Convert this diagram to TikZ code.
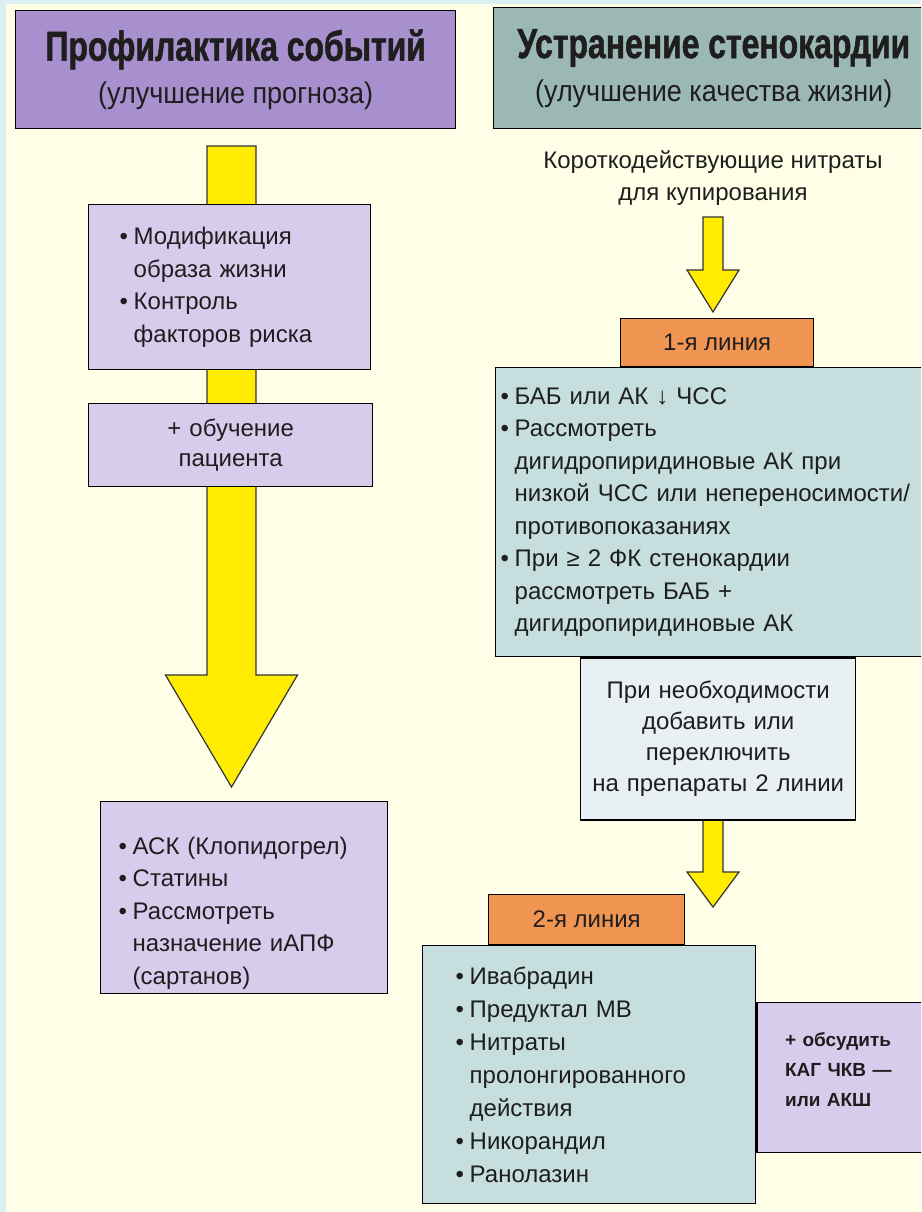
\documentclass[tikz,border=0pt]{standalone}
\usepackage{fontspec}
\setmainfont{Liberation Sans}
\newfontfamily\headfont[FakeStretch=0.76,FakeBold=1.2]{Liberation Sans}
\newfontfamily\subheadfont[FakeStretch=0.9]{Liberation Sans}
\usetikzlibrary{positioning,calc}
\definecolor{cream}{RGB}{255,255,232}
\definecolor{frameblue}{RGB}{220,240,242}
\definecolor{violet}{RGB}{168,144,206}
\definecolor{lavender}{RGB}{216,204,236}
\definecolor{sage}{RGB}{156,184,180}
\definecolor{mint}{RGB}{198,222,222}
\definecolor{mist}{RGB}{232,240,244}
\definecolor{tangerine}{RGB}{240,150,82}
\definecolor{lemon}{RGB}{255,236,0}
\definecolor{ink}{RGB}{30,30,30}

\newcommand{\bul}{\makebox[14pt][l]{\textbullet}}
\newcommand{\ind}{\hspace*{14pt}}
\newcommand{\bodysize}{\fontsize{24}{32.5}\selectfont}
% block arrow: from, to, half shaft, half head, head length
\newcommand{\yarrow}[5]{%
  \filldraw[fatarrow] let \p1=(#1), \p2=(#2) in
    (\x1-#3pt,\y1) -- (\x1+#3pt,\y1) -- (\x1+#3pt,\y2+#5pt) -- (\x1+#4pt,\y2+#5pt)
    -- (\x1,\y2) -- (\x1-#4pt,\y2+#5pt) -- (\x1-#3pt,\y2+#5pt) -- cycle;}

\begin{document}
\begin{tikzpicture}[x=1pt,y=-1pt,
    box/.style={draw=black, line width=1.4pt, text=ink, inner sep=0pt, anchor=north west, font=\bodysize},
    lbox/.style={box, align=left},
    cbox/.style={box, align=center},
    head/.style={box, align=center, font=\fontsize{30}{43}\selectfont},
    tab/.style={box, anchor=center, fill=tangerine, minimum width=#1, minimum height=48pt},
    fatarrow/.style={fill=lemon, draw=black!80, line width=1.2pt, line join=miter}]
  \useasboundingbox (0,0) rectangle (921,1212);
  \clip (0,0) rectangle (921,1212);
  \fill[cream] (0,0) rectangle (921,1212);
  \fill[frameblue] (0,0) rectangle (921,4);
  \fill[frameblue] (0,0) rectangle (6,1212);

  \coordinate (la) at (231.5,146);
  \coordinate (lz) at (231.5,787);
  \coordinate (ra) at (713,217);
  \coordinate (rz) at (713,312);
  \coordinate (sa) at (713,818);
  \coordinate (sz) at (713,907);
  \yarrow{la}{lz}{24.5}{66}{112}
  \yarrow{ra}{rz}{10}{26}{42}
  \yarrow{sa}{sz}{10}{26}{35}

  \node[head, fill=violet, minimum width=440pt, minimum height=118pt] (prev) at (15,10)
    {{\headfont\bfseries\fontsize{42}{46}\selectfont Профилактика событий}\\
     {\subheadfont (улучшение прогноза)}};
  \node[head, fill=sage, minimum width=440pt, minimum height=121pt] (relief) at (493,7)
    {{\headfont\bfseries\fontsize{42}{46}\selectfont Устранение стенокардии}\\
     {\subheadfont (улучшение качества жизни)}};

  \node[lbox, fill=lavender, inner xsep=31pt, text width=220pt, minimum height=165pt] (life) at (88,204)
    {\bul Модификация\\ \ind образа жизни\\ \bul Контроль\\ \ind факторов риска};
  \node[cbox, fill=lavender, text width=284pt, minimum height=83pt, font=\fontsize{24}{30}\selectfont] (edu) at (88,403)
    {+ обучение\\пациента};
  \node[lbox, fill=lavender, inner xsep=18pt, text width=251pt, minimum height=192pt] (drugs) at (100,801)
    {\rule{0pt}{48pt}\bul АСК (Клопидогрел)\\ \bul Статины\\ \bul Рассмотреть\\ \ind назначение иАПФ\\ \ind (сартанов)};

  \node[text=ink, align=center, font=\bodysize] (nitro) at (713,178)
    {Короткодействующие нитраты\\для купирования};

  \node[lbox, fill=mint, inner xsep=5pt, text width=430pt, minimum height=289pt] (first) at (495,367)
    {\bul БАБ или АК ↓ ЧСС\\
     \bul Рассмотреть\\
     \ind дигидропиридиновые АК при\\
     \ind низкой ЧСС или непереносимости/\\
     \ind противопоказаниях\\
     \bul При ≥ 2 ФК стенокардии\\
     \ind рассмотреть БАБ +\\
     \ind дигидропиридиновые АК};
  \node[tab=193pt, anchor=south, above=0pt of first, xshift=1.5pt] (tab1) {1-я линия};
  \node[cbox, fill=mist, anchor=north, below=0pt of first, xshift=2.5pt, text width=275pt,
        minimum height=162pt, font=\fontsize{24}{31}\selectfont] (switch)
    {При необходимости\\добавить или\\переключить\\на препараты 2 линии};

  \node[lbox, fill=mint, inner xsep=33pt, text width=267pt, minimum height=258pt, font=\fontsize{24}{33}\selectfont] (second) at (422,945)
    {\bul Ивабрадин\\
     \bul Предуктал МВ\\
     \bul Нитраты\\
     \ind пролонгированного\\
     \ind действия\\
     \bul Никорандил\\
     \bul Ранолазин};
  \node[tab=196pt, above=0pt of second, xshift=-2.5pt, minimum height=50pt] (tab2) {2-я линия};
  \node[lbox, fill=lavender, right=0pt of second, yshift=-3pt, inner xsep=28pt, text width=124pt,
        minimum height=150pt, font=\bfseries\fontsize{19}{30}\selectfont] (cabg)
    {+ обсудить\\КАГ ЧКВ —\\или АКШ\rule[-16pt]{0pt}{16pt}};
\end{tikzpicture}
\end{document}
